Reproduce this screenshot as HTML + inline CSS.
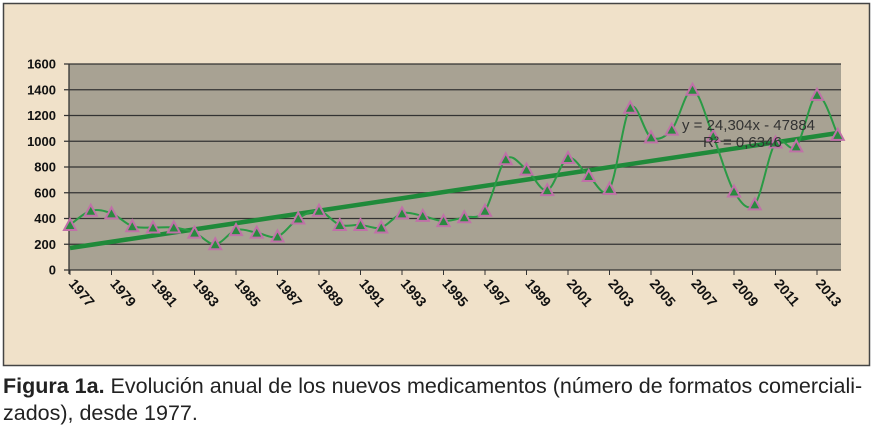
<!DOCTYPE html>
<html><head><meta charset="utf-8"><style>
body{margin:0;width:875px;height:437px;background:#fff;overflow:hidden;position:relative}
.cap{position:absolute;left:3px;top:373px;width:880px;font-family:"Liberation Sans",sans-serif;font-size:21.5px;line-height:27px;color:#222;white-space:nowrap}
</style></head><body>
<svg id="s" width="875" height="370" style="position:absolute;left:0;top:0" xmlns="http://www.w3.org/2000/svg">
<rect x="3.5" y="3.5" width="866" height="362" fill="#f0e1c9" stroke="#444" stroke-width="1.5"/>
<rect x="69" y="64" width="772" height="206" fill="#a8a293"/>
<g id="g"></g>
</svg>
<div class="cap"><b>Figura 1a.</b> Evolución anual de los nuevos medicamentos (número de formatos comerciali-<br>zados), desde 1977.</div>
<script>
var g=document.getElementById('g'),h='';
function Y(v){return 270-v*0.12875}
for(var v=0;v<=1600;v+=200){var y=Y(v);h+='<line x1="64" x2="841" y1="'+y+'" y2="'+y+'" stroke="#333" stroke-width="1.3"/>';
h+='<text x="56" y="'+(y+4.5)+'" text-anchor="end" font-family="Liberation Sans" font-weight="bold" font-size="13" fill="#111">'+v+'</text>';}
h+='<line x1="69" x2="69" y1="64" y2="274" stroke="#333" stroke-width="1.3"/>';
function X(i){return 70+i*20.75}
for(var i=0;i<38;i+=2){var x=X(i);h+='<line x1="'+x+'" x2="'+x+'" y1="270" y2="275" stroke="#333"/>';
h+='<text transform="translate('+(x-2)+',284) rotate(50)" font-family="Liberation Sans" font-weight="bold" font-size="14" fill="#111">'+(1977+i)+'</text>';}
var d=[350,460,440,340,330,330,290,200,310,290,260,400,460,350,350,330,440,420,380,410,460,860,780,620,870,730,630,1260,1030,1090,1400,1040,610,510,990,960,1360,1050];
var p=d.map(function(v,i){return [X(i),Y(v)]});
var s='M'+p[0][0]+','+p[0][1];
for(var i=0;i<p.length-1;i++){var a=p[Math.max(0,i-1)],b=p[i],c=p[i+1],e=p[Math.min(p.length-1,i+2)];
s+=' C'+(b[0]+(c[0]-a[0])/6)+','+(b[1]+(c[1]-a[1])/6)+' '+(c[0]-(e[0]-b[0])/6)+','+(c[1]-(e[1]-b[1])/6)+' '+c[0]+','+c[1];}
h+='<line x1="70" y1="248" x2="838" y2="133" stroke="#1f8a3a" stroke-width="4.5"/>';
h+='<path d="'+s+'" fill="none" stroke="#2a9a45" stroke-width="2"/>';
p.forEach(function(q){h+='<polygon points="'+q[0]+','+(q[1]-6)+' '+(q[0]-6)+','+(q[1]+5)+' '+(q[0]+6)+','+(q[1]+5)+'" fill="#2a8a40" stroke="#c070a8" stroke-width="2"/>';});
h+='<text x="682" y="130" font-family="Liberation Sans" font-size="15" fill="#333">y = 24,304x  - 47884</text>';
h+='<text x="703" y="147" font-family="Liberation Sans" font-size="15" fill="#333">R² = 0,6346</text>';
g.innerHTML=h;
</script>
</body></html>
